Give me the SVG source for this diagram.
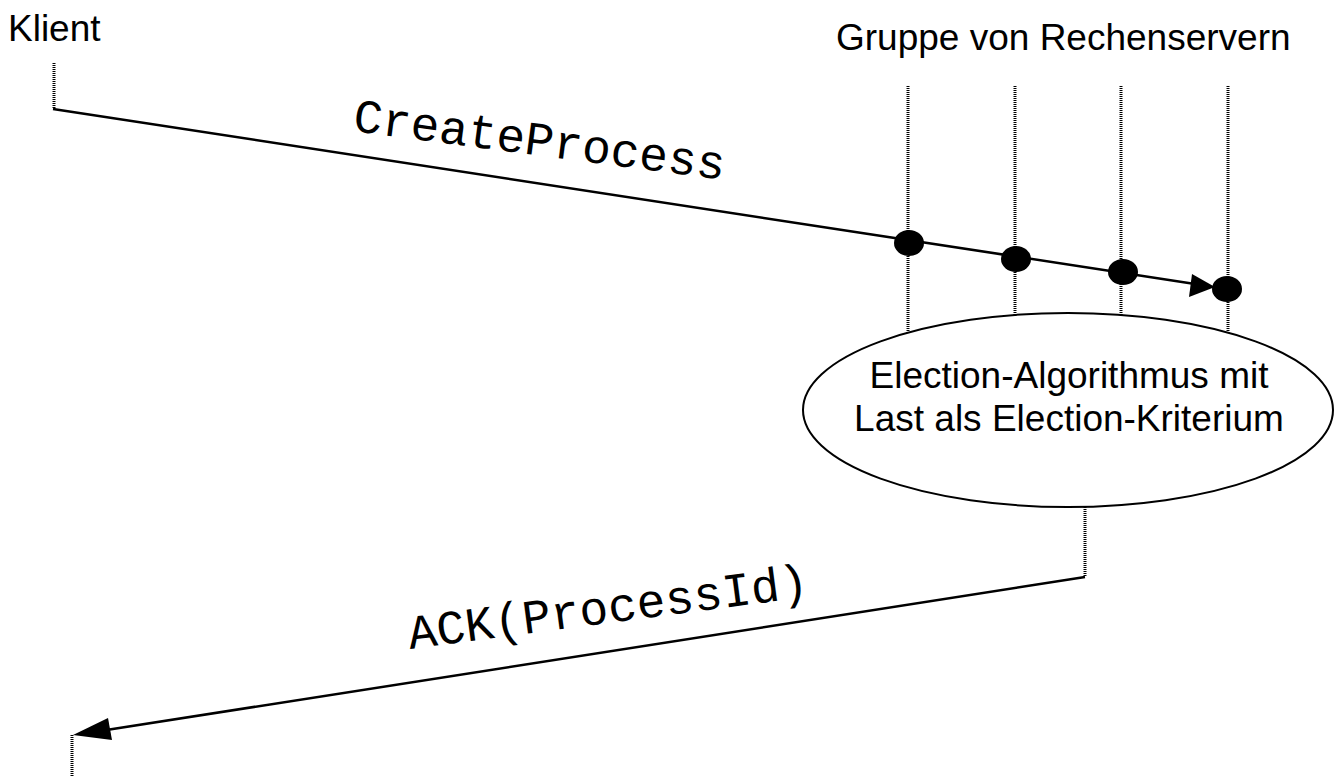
<svg xmlns="http://www.w3.org/2000/svg" width="1335" height="777" viewBox="0 0 1335 777">
<style>
.life{stroke:#000;stroke-width:3;stroke-dasharray:1 1;fill:none}
.msg{stroke:#000;stroke-width:2.5;fill:none}
.sans{font-family:"Liberation Sans",Arial,sans-serif;font-size:37px;fill:#000}
.mono{font-family:"Liberation Mono","Courier New",monospace;font-size:48px;fill:#000}
.dot{fill:#000}
</style>
<rect width="1335" height="777" fill="#fff"/>
<g id="klient">
<text class="sans" x="8" y="41">Klient</text>
<line class="life" x1="54" y1="63" x2="54" y2="109"/>
<line class="life" x1="72" y1="735" x2="72" y2="777"/>
</g>
<g id="server-gruppe">
<text class="sans" x="836" y="50">Gruppe von Rechenservern</text>
<line class="life" x1="908" y1="86" x2="908" y2="333"/>
<line class="life" x1="1015" y1="86" x2="1015" y2="316"/>
<line class="life" x1="1121" y1="86" x2="1121" y2="316"/>
<line class="life" x1="1228" y1="86" x2="1228" y2="333"/>
</g>
<g id="election">
<ellipse cx="1068" cy="410" rx="265" ry="97" fill="#fff" stroke="#000" stroke-width="2"/>
<text class="sans" x="1069" y="388" text-anchor="middle">Election-Algorithmus mit</text>
<text class="sans" x="1069" y="431" text-anchor="middle">Last als Election-Kriterium</text>
<line class="life" x1="1085" y1="507" x2="1085" y2="577"/>
</g>
<g id="connectors">
<line class="msg" x1="53" y1="109" x2="1195" y2="284"/>
<polygon points="1215,287 1189,297 1192,274" fill="#000"/>
<ellipse class="dot" cx="909" cy="243" rx="15" ry="13"/>
<ellipse class="dot" cx="1016" cy="259" rx="15" ry="13"/>
<ellipse class="dot" cx="1123" cy="272" rx="15" ry="13"/>
<ellipse class="dot" cx="1227" cy="289" rx="15" ry="13"/>
<text class="mono" x="352" y="131" transform="rotate(7.5 352 131)">CreateProcess</text>
<line class="msg" x1="1085" y1="577" x2="100" y2="731"/>
<polygon points="73,735 108,718 112,740" fill="#000"/>
<text class="mono" x="410" y="649" transform="rotate(-7.5 410 649)">ACK(ProcessId)</text>
</g>
</svg>
